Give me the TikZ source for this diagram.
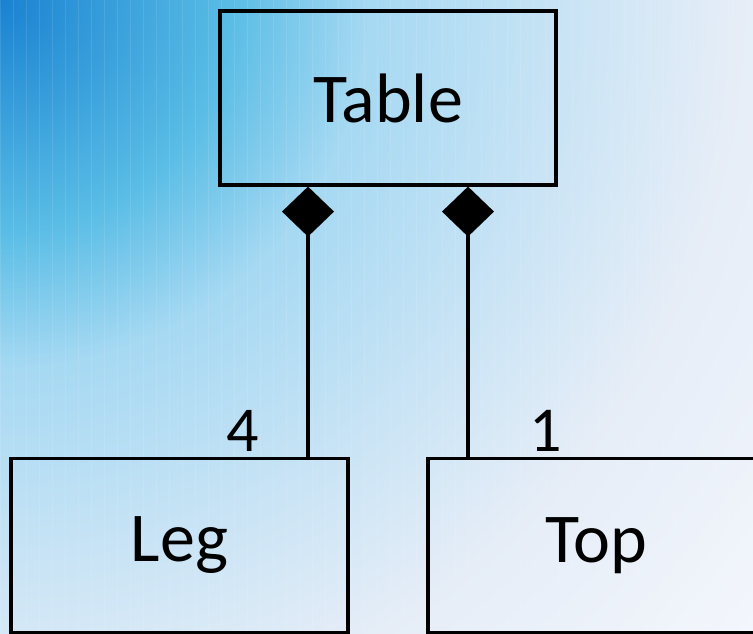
\documentclass[tikz,border=0pt]{standalone}
\usepackage{fontspec}
\setmainfont{Carlito}
\usepackage{xcolor}
\usepackage{tikz}
\usetikzlibrary{arrows.meta}

\definecolor{bgLR}{RGB}{246,247,252}
\pgfdeclareradialshading{backglow}{\pgfpoint{0bp}{0bp}}{%
  rgb(0bp)=(0.10,0.51,0.82);
  rgb(5bp)=(0.35,0.74,0.90);
  rgb(8bp)=(0.65,0.85,0.95);
  rgb(12bp)=(0.78,0.89,0.96);
  rgb(16bp)=(0.90,0.93,0.97);
  rgb(22bp)=(0.96,0.97,0.99);
  rgb(25bp)=(0.965,0.97,0.99);
  rgb(50bp)=(0.965,0.97,0.99)}

\tikzset{
  cls/.style={draw=black, line width=3.2pt, minimum width=336, minimum height=174,
    inner sep=0pt, font=\fontsize{70}{70}\selectfont},
  comp/.style={line width=3.2pt, -{Diamond[length=50pt 0 0, width=52pt 0 0]}},
  mult/.style={font=\fontsize{64}{64}\selectfont, inner sep=0pt},
}

\begin{document}
\begin{tikzpicture}[x=1pt, y=-1pt]
    \clip (0,0) rectangle (753,634);
    \fill[bgLR] (0,0) rectangle (753,634);
    \shade[shading=backglow] (0,0) circle[radius=1150];
    \draw[white, opacity=0.10, line width=1pt, step=13] (0,0) grid (753,634);
    % classes
    \node[cls] (table) at (388,98) {Table};
    \node[cls, minimum width=337] (leg) at (179.5,545.5) {Leg};
    \node[cls] (top) at (596,545.5) {Top};
    % composition
    \coordinate (jl) at ([xshift=-80]table.south);
    \coordinate (jr) at ([xshift=80]table.south);
    \draw[comp] (jl |- leg.north) -- (jl);
    \draw[comp] (jr |- top.north) -- (jr);
    \node[mult] (mleg) at (243,431) {4};
    \node[mult] (mtop) at (546,431) {1};
  \end{tikzpicture}
\end{document}
